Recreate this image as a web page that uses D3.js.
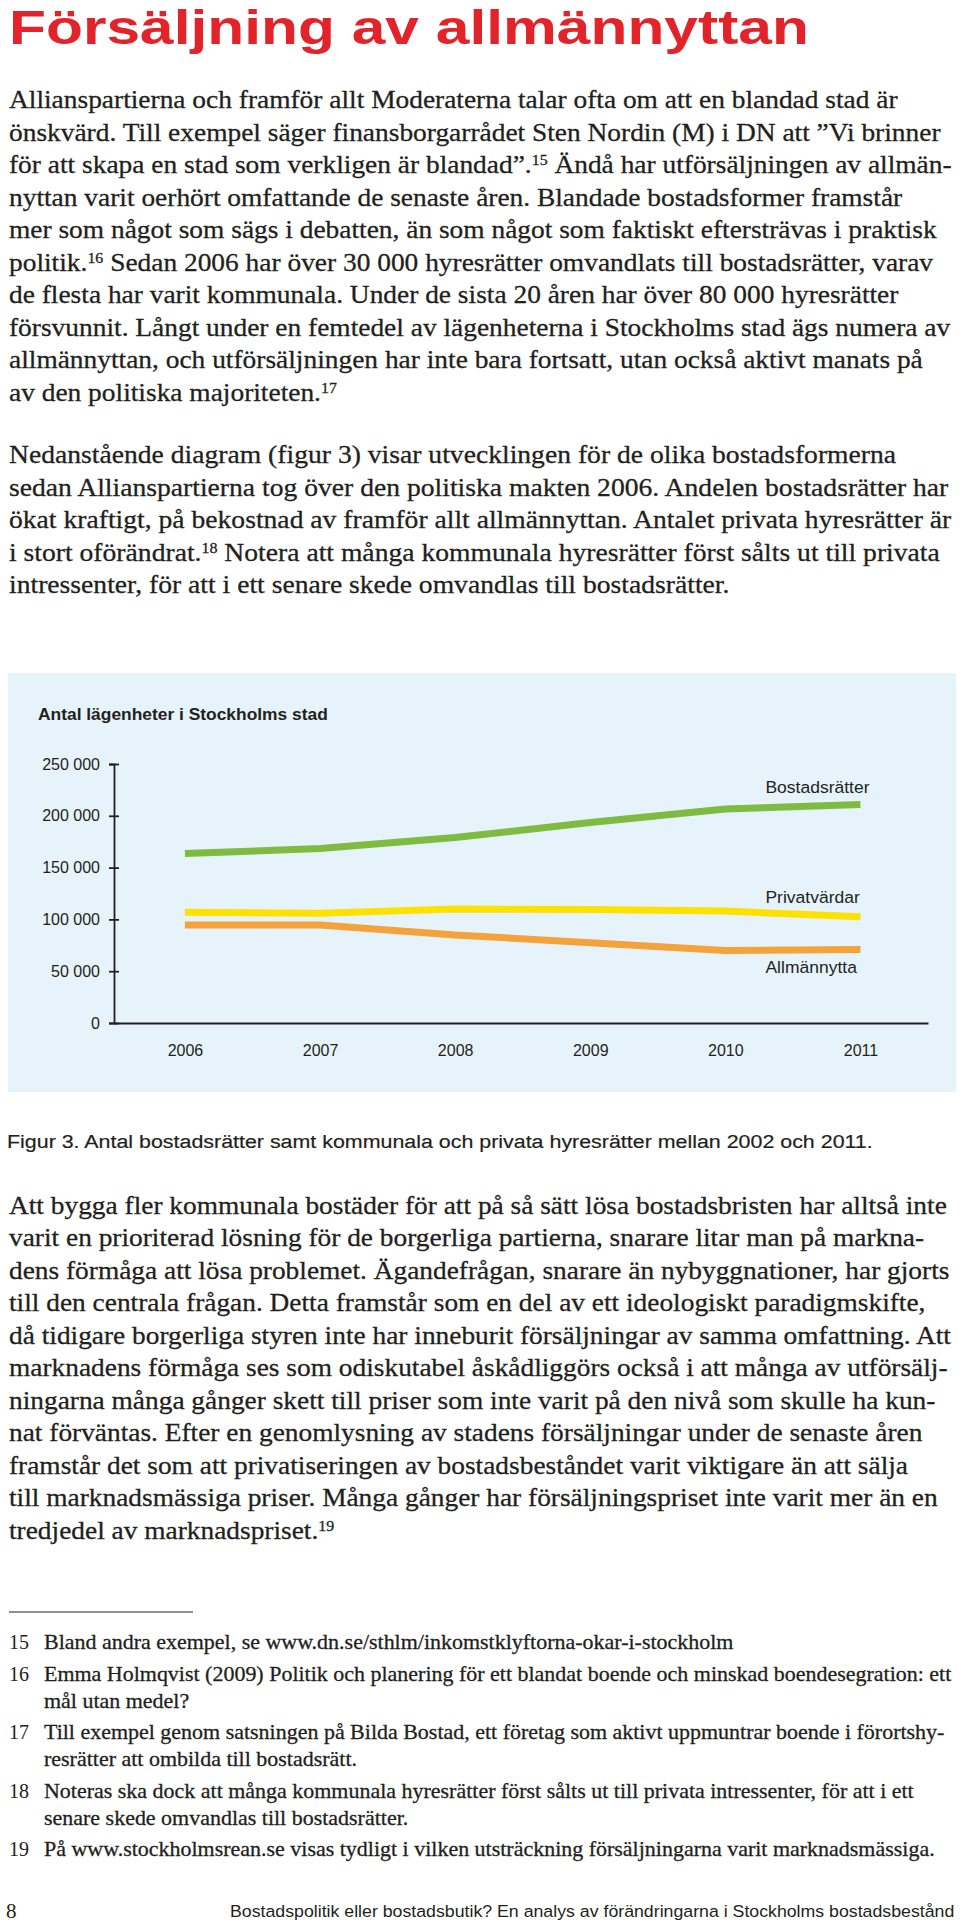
<!DOCTYPE html>
<html>
<head>
<meta charset="utf-8">
<script src="https://cdn.jsdelivr.net/npm/d3@7"></script>
<style>
  body { margin: 0; background: #fff; }
  svg { display: block; }
</style>
</head>
<body>
<div id="page"></div>
<script>
// ---- page text ----
const pageTitle = "Försäljning av allmännyttan";

// {n} marks a footnote reference (superscript)
const para1 = [
    "Allianspartierna och framför allt Moderaterna talar ofta om att en blandad stad är",
    "önskvärd. Till exempel säger finansborgarrådet Sten Nordin (M) i DN att ”Vi brinner",
    "för att skapa en stad som verkligen är blandad”.{15} Ändå har utförsäljningen av allmän-",
    "nyttan varit oerhört omfattande de senaste åren. Blandade bostadsformer framstår",
    "mer som något som sägs i debatten, än som något som faktiskt eftersträvas i praktisk",
    "politik.{16} Sedan 2006 har över 30 000 hyresrätter omvandlats till bostadsrätter, varav",
    "de flesta har varit kommunala. Under de sista 20 åren har över 80 000 hyresrätter",
    "försvunnit. Långt under en femtedel av lägenheterna i Stockholms stad ägs numera av",
    "allmännyttan, och utförsäljningen har inte bara fortsatt, utan också aktivt manats på",
    "av den politiska majoriteten.{17}"
];

const para2 = [
    "Nedanstående diagram (figur 3) visar utvecklingen för de olika bostadsformerna",
    "sedan Allianspartierna tog över den politiska makten 2006. Andelen bostadsrätter har",
    "ökat kraftigt, på bekostnad av framför allt allmännyttan. Antalet privata hyresrätter är",
    "i stort oförändrat.{18} Notera att många kommunala hyresrätter först sålts ut till privata",
    "intressenter, för att i ett senare skede omvandlas till bostadsrätter."
];

const para3 = [
    "Att bygga fler kommunala bostäder för att på så sätt lösa bostadsbristen har alltså inte",
    "varit en prioriterad lösning för de borgerliga partierna, snarare litar man på markna-",
    "dens förmåga att lösa problemet. Ägandefrågan, snarare än nybyggnationer, har gjorts",
    "till den centrala frågan. Detta framstår som en del av ett ideologiskt paradigmskifte,",
    "då tidigare borgerliga styren inte har inneburit försäljningar av samma omfattning. Att",
    "marknadens förmåga ses som odiskutabel åskådliggörs också i att många av utförsälj-",
    "ningarna många gånger skett till priser som inte varit på den nivå som skulle ha kun-",
    "nat förväntas. Efter en genomlysning av stadens försäljningar under de senaste åren",
    "framstår det som att privatiseringen av bostadsbeståndet varit viktigare än att sälja",
    "till marknadsmässiga priser. Många gånger har försäljningspriset inte varit mer än en",
    "tredjedel av marknadspriset.{19}"
];

const footnoteNumbers = ["15", "16", "17", "18", "19"];
const footnoteLines = [
    ["Bland andra exempel, se www.dn.se/sthlm/inkomstklyftorna-okar-i-stockholm"],
    ["Emma Holmqvist (2009) Politik och planering för ett blandat boende och minskad boendesegration: ett",
     "mål utan medel?"],
    ["Till exempel genom satsningen på Bilda Bostad, ett företag som aktivt uppmuntrar boende i förortshy-",
     "resrätter att ombilda till bostadsrätt."],
    ["Noteras ska dock att många kommunala hyresrätter först sålts ut till privata intressenter, för att i ett",
     "senare skede omvandlas till bostadsrätter."],
    ["På www.stockholmsrean.se visas tydligt i vilken utsträckning försäljningarna varit marknadsmässiga."]
];

const pageNumber = "8";
const footerText = "Bostadspolitik eller bostadsbutik? En analys av förändringarna i Stockholms bostadsbestånd";
const caption = "Figur 3. Antal bostadsrätter samt kommunala och privata hyresrätter mellan 2002 och 2011.";

// ---- chart data ----
const chartTitle = "Antal lägenheter i Stockholms stad";
const years = [2006, 2007, 2008, 2009, 2010, 2011];
const bostadsratter = [163500, 168500, 179000, 193500, 206500, 211000];
const privatvardar  = [107000, 106000, 110000, 109500, 108000, 102500];
const allmannytta   = [94500, 94500, 85000, 77500, 70000, 71000];
const seriesNames = ["Bostadsrätter", "Privatvärdar", "Allmännytta"];
const yTicks = [0, 50000, 100000, 150000, 200000, 250000];

// ---- drawing ----
const width = 960, height = 1928;
const ink = "#231f20";
const serif = "'Liberation Serif', 'DejaVu Serif', serif";
const sans = "'Liberation Sans', Arial, Helvetica, sans-serif";

const svg = d3.select("#page")
    .append("svg")
        .attr("width", width)
        .attr("height", height);

// one line of text, footnote marks as superscript tspans
const addLine = (g, str, size, family) => {
    const t = g.append("text")
        .style("font-size", `${size}px`)
        .style("font-family", family)
        .attr("fill", ink)
        .attr("stroke", ink)
        .attr("stroke-width", 0.3);
    str.split(/\{(\d+)\}/).forEach((part, i) => {
        if (!part) return;
        const ts = t.append("tspan").text(part);
        if (i % 2) ts.style("font-size", "0.58em").attr("baseline-shift", "super");
    });
    return t;
};

// squeeze a text horizontally so it is `w` px wide
const fit = (t, x, y, w, anchorEnd) => {
    const bw = t.node().getBBox().width;
    const k = w / bw;
    const tx = anchorEnd ? x - w : x;
    t.attr("transform", `translate(${tx},${y}) scale(${k},1)`);
};

// a paragraph: every line gets the same squeeze, the widest line sets it
const paragraph = (lines, x, yFirst, step, size, maxW) => {
    const g = svg.append("g");
    const nodes = lines.map(s => addLine(g, s, size, serif));
    const widest = d3.max(nodes, n => n.node().getBBox().width);
    const k = maxW / widest;
    nodes.forEach((n, i) => n.attr("transform", `translate(${x},${yFirst + i * step}) scale(${k},1)`));
    return k;
};

// title
const titleText = svg.append("text")
    .style("font-family", sans)
    .style("font-weight", "bold")
    .style("font-size", "48px")
    .attr("fill", "#e3232a")
    .text(pageTitle);
fit(titleText, 9, 44, 800);

// body text
paragraph(para1, 9, 108, 32.5, 26, 943);
paragraph(para2, 9, 463, 32.5, 26, 943);

// chart panel
const panel = { x: 8, y: 673, w: 948, h: 419 };
svg.append("rect")
    .attr("x", panel.x)
    .attr("y", panel.y)
    .attr("width", panel.w)
    .attr("height", panel.h)
    .attr("fill", "#e6f3fa");

const chartTitleText = svg.append("text")
    .style("font-family", sans)
    .style("font-weight", "bold")
    .style("font-size", "17px")
    .attr("fill", ink)
    .text(chartTitle);
fit(chartTitleText, 38, 720, 290);

const plot = { left: 114, right: 928, top: 764, bottom: 1023 };

const x = d3.scaleLinear()
    .domain([2005.475, 2011.5])
    .range([plot.left, plot.right]);

const y = d3.scaleLinear()
    .domain([0, 250000])
    .range([plot.bottom, plot.top]);

const series = [
    { name: seriesNames[0], values: bostadsratter, colour: "#80bb41", labelDy: -17 },
    { name: seriesNames[1], values: privatvardar,  colour: "#fde100", labelDy: -20 },
    { name: seriesNames[2], values: allmannytta,   colour: "#f4a23b", labelDy: 18 }
];

const line = d3.line()
    .x((d, i) => x(years[i]))
    .y(d => y(d));

svg.append("g")
    .selectAll("path")
    .data(series)
    .join("path")
        .attr("fill", "none")
        .attr("stroke", d => d.colour)
        .attr("stroke-width", 7)
        .attr("stroke-linejoin", "round")
        .attr("d", d => line(d.values));

// series labels next to the line ends
series.forEach(s => {
    const last = s.values.length - 1;
    const t = svg.append("text")
        .style("font-family", sans)
        .style("font-size", "17px")
        .attr("fill", ink)
        .attr("dy", "0.35em")
        .text(s.name);
    fit(t, x(years[last]) - 95, y(s.values[last]) + s.labelDy, t.node().getBBox().width * 1.03);
});

const fmt = v => d3.format(",")(v).replace(/,/g, " ");

const yAxisGroup = svg.append("g")
    .attr("transform", `translate(${plot.left},0)`)
    .call(d3.axisLeft(y).tickValues(yTicks).tickSize(5).tickPadding(6).tickFormat(fmt));

yAxisGroup.select(".domain").attr("stroke", ink).attr("stroke-width", 1.8);
yAxisGroup.selectAll(".tick line").attr("x1", 5).attr("stroke", ink).attr("stroke-width", 1.8);
yAxisGroup.selectAll(".tick text")
    .attr("x", -14)
    .style("font-family", sans)
    .style("font-size", "16px")
    .attr("fill", ink);

const xAxisGroup = svg.append("g")
    .attr("transform", `translate(0,${plot.bottom})`)
    .call(d3.axisBottom(x).tickValues(years).tickSize(0).tickSizeOuter(0).tickPadding(22).tickFormat(d3.format("d")));

xAxisGroup.select(".domain").attr("stroke", ink).attr("stroke-width", 1.8);
xAxisGroup.selectAll(".tick text")
    .style("font-family", sans)
    .style("font-size", "16px")
    .attr("fill", ink);

// caption
const captionText = svg.append("text")
    .style("font-family", sans)
    .style("font-size", "19px")
    .attr("fill", ink)
    .attr("stroke", ink)
    .attr("stroke-width", 0.2)
    .text(caption);
fit(captionText, 7, 1148, 866);

paragraph(para3, 9, 1214, 32.46, 26, 943);

// footnotes
svg.append("line")
    .attr("x1", 9).attr("x2", 193)
    .attr("y1", 1612).attr("y2", 1612)
    .attr("stroke", ink)
    .attr("stroke-width", 1.2);

const noteGroup = svg.append("g");
const noteNodes = [];
let noteY = 1649;
footnoteNumbers.forEach((num, i) => {
    noteGroup.append("text")
        .attr("x", 9)
        .attr("y", noteY)
        .style("font-family", serif)
        .style("font-size", "20px")
        .attr("fill", ink)
        .text(num);
    footnoteLines[i].forEach((s, j) => {
        noteNodes.push({ node: addLine(noteGroup, s, 21, serif), y: noteY + j * 27 });
    });
    noteY += (footnoteLines[i].length - 1) * 27 + 31.5;
});
const noteWidest = d3.max(noteNodes, n => n.node.node().getBBox().width);
noteNodes.forEach(n => n.node.attr("transform", `translate(44,${n.y}) scale(${908 / noteWidest},1)`));

// footer
svg.append("text")
    .attr("x", 6)
    .attr("y", 1918)
    .style("font-family", serif)
    .style("font-size", "21px")
    .attr("fill", ink)
    .text(pageNumber);

const footerNode = svg.append("text")
    .style("font-family", sans)
    .style("font-size", "17px")
    .attr("fill", ink)
    .text(footerText);
fit(footerNode, 955, 1917, 725, true);
</script>
</body>
</html>
